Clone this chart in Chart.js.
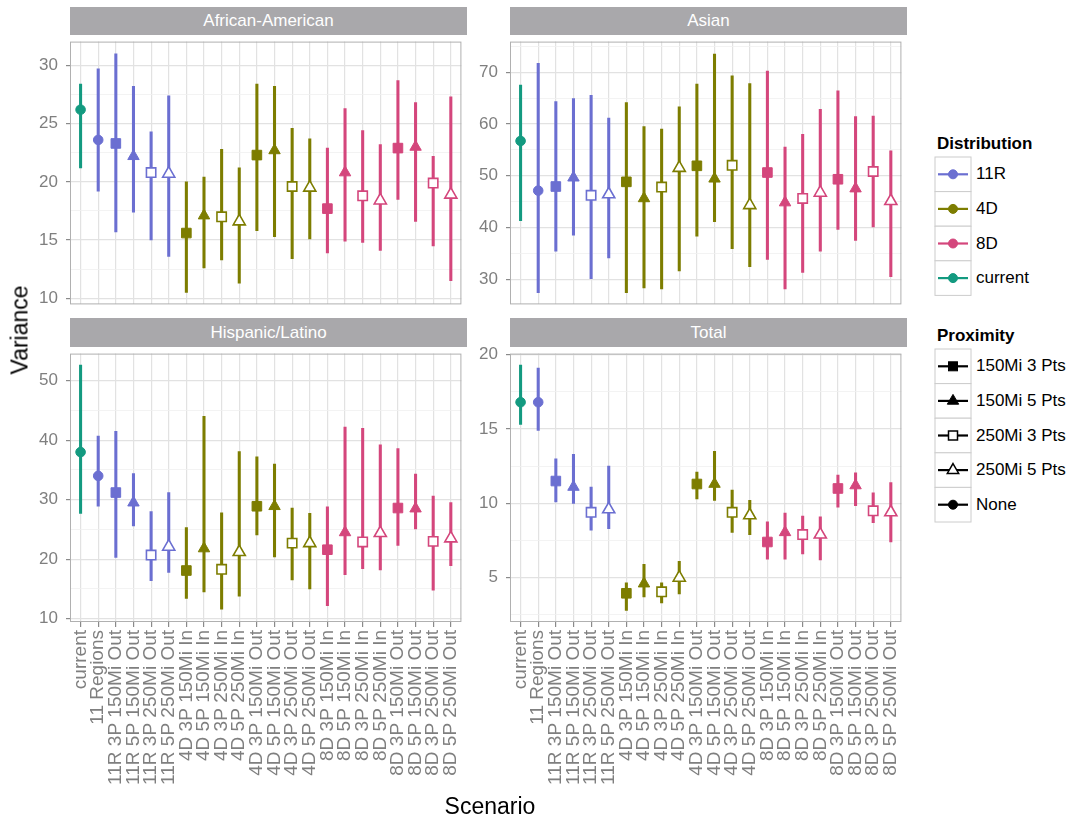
<!DOCTYPE html>
<html>
<head>
<meta charset="utf-8">
<script src="https://cdn.jsdelivr.net/npm/chart.js@4.4.1/dist/chart.umd.min.js"></script>
<style>
  body { margin: 0; background: #fff; font-family: "Liberation Sans", Arial, sans-serif; }
  #wrap { position: relative; width: 1076px; height: 822px; overflow: hidden; }
  canvas { position: absolute; }
  .strip { position: absolute; background: #a9a8ab; color: #fff; font-size: 17px; text-align: center; }
  .title { position: absolute; color: #000; font-size: 23px; white-space: nowrap; }
  .legTitle { position: absolute; font-weight: bold; font-size: 17px; }
  .legLabel { position: absolute; font-size: 17px; white-space: nowrap; }
  svg { position: absolute; }
</style>
</head>
<body>
<div id="wrap">
  <canvas id="aaChart" width="470" height="280" style="left:0;top:33px"></canvas>
  <canvas id="asianChart" width="440" height="280" style="left:470px;top:33px"></canvas>
  <canvas id="hispChart" width="470" height="462" style="left:0;top:345px"></canvas>
  <canvas id="totalChart" width="440" height="462" style="left:470px;top:345px"></canvas>

  <div class="strip" style="left:70px;top:7px;width:397px;height:28px;line-height:28px">African-American</div>
  <div class="strip" style="left:510px;top:7px;width:397px;height:28px;line-height:28px">Asian</div>
  <div class="strip" style="left:70px;top:318px;width:397px;height:29px;line-height:29px">Hispanic/Latino</div>
  <div class="strip" style="left:510px;top:318px;width:397px;height:29px;line-height:29px">Total</div>

  <div class="title" style="left:20px;top:330px;transform:translate(-50%,-50%) rotate(-90deg)">Variance</div>
  <div class="title" style="left:490px;top:806px;transform:translate(-50%,-50%)">Scenario</div>

  <div class="legTitle" style="left:937px;top:134px">Distribution</div>
  <div class="legTitle" style="left:937px;top:326px">Proximity</div>
  <div id="legend"></div>
</div>
<script>
// Các kịch bản (trục x)
const categories = [
    "current", "11 Regions",
    "11R 3P 150Mi Out", "11R 5P 150Mi Out", "11R 3P 250Mi Out", "11R 5P 250Mi Out",
    "4D 3P 150Mi In", "4D 5P 150Mi In", "4D 3P 250Mi In", "4D 5P 250Mi In",
    "4D 3P 150Mi Out", "4D 5P 150Mi Out", "4D 3P 250Mi Out", "4D 5P 250Mi Out",
    "8D 3P 150Mi In", "8D 5P 150Mi In", "8D 3P 250Mi In", "8D 5P 250Mi In",
    "8D 3P 150Mi Out", "8D 5P 150Mi Out", "8D 3P 250Mi Out", "8D 5P 250Mi Out"
];
const distribution = [
    "current", "11R", "11R", "11R", "11R", "11R",
    "4D", "4D", "4D", "4D", "4D", "4D", "4D", "4D",
    "8D", "8D", "8D", "8D", "8D", "8D", "8D", "8D"
];
const proximity = [
    "None", "None",
    "150Mi 3 Pts", "150Mi 5 Pts", "250Mi 3 Pts", "250Mi 5 Pts",
    "150Mi 3 Pts", "150Mi 5 Pts", "250Mi 3 Pts", "250Mi 5 Pts",
    "150Mi 3 Pts", "150Mi 5 Pts", "250Mi 3 Pts", "250Mi 5 Pts",
    "150Mi 3 Pts", "150Mi 5 Pts", "250Mi 3 Pts", "250Mi 5 Pts",
    "150Mi 3 Pts", "150Mi 5 Pts", "250Mi 3 Pts", "250Mi 5 Pts"
];
const distLabels = ["11R", "4D", "8D", "current"];
const proxLabels = ["150Mi 3 Pts", "150Mi 5 Pts", "250Mi 3 Pts", "250Mi 5 Pts", "None"];

// African-American
const aaMid = [26.2, 23.6, 23.3, 22.2, 20.8, 20.7, 15.6, 17.1, 17.0, 16.6, 22.3, 22.7, 19.6, 19.5, 17.7, 20.8, 18.8, 18.4, 22.9, 23.0, 19.9, 18.9];
const aaLo  = [21.2, 19.2, 15.7, 17.4, 15.0, 13.6, 10.5, 12.6, 13.3, 11.3, 15.8, 15.3, 13.4, 15.1, 13.9, 14.9, 14.8, 14.1, 18.5, 16.6, 14.5, 11.5];
const aaHi  = [28.4, 29.7, 31.0, 28.2, 24.3, 27.4, 20.0, 20.4, 22.8, 21.2, 28.4, 28.2, 24.6, 23.7, 22.9, 26.3, 24.4, 23.2, 28.7, 26.8, 22.2, 27.3];
const aaTicks = [10, 15, 20, 25, 30];

// Asian
const asianMid = [56.7, 47.1, 47.9, 49.6, 46.2, 46.4, 48.8, 45.6, 47.8, 51.5, 51.9, 49.4, 52.0, 44.3, 50.6, 44.8, 45.6, 46.7, 49.3, 47.5, 50.8, 45.1];
const asianLo  = [41.3, 27.4, 35.4, 38.5, 30.1, 34.1, 27.4, 28.3, 28.1, 31.6, 38.3, 41.1, 35.9, 32.4, 33.8, 28.1, 31.3, 35.4, 39.6, 37.5, 40.1, 30.5];
const asianHi  = [67.5, 71.7, 64.3, 64.9, 65.5, 61.1, 64.1, 59.5, 59.0, 63.3, 67.7, 73.5, 69.3, 67.8, 70.2, 55.5, 58.0, 62.8, 66.4, 61.4, 61.5, 54.8];
const asianTicks = [30, 40, 50, 60, 70];

// Hispanic/Latino
const hispMid = [38.0, 34.0, 31.2, 29.5, 20.7, 22.1, 18.1, 21.8, 18.3, 21.2, 28.9, 28.9, 22.7, 22.7, 21.6, 24.5, 22.9, 24.4, 28.6, 28.5, 23.0, 23.5];
const hispLo  = [27.7, 28.9, 20.3, 25.6, 16.4, 17.8, 13.4, 14.5, 11.6, 13.8, 24.1, 20.4, 16.5, 15.0, 12.2, 17.4, 18.4, 18.2, 22.3, 25.1, 14.8, 18.9];
const hispHi  = [52.6, 40.7, 41.5, 34.4, 28.0, 31.2, 25.3, 44.0, 27.8, 38.1, 37.2, 36.0, 28.6, 27.7, 28.8, 42.2, 42.0, 39.2, 38.6, 34.3, 30.6, 29.5];
const hispTicks = [10, 20, 30, 40, 50];

// Total
const totalMid = [16.8, 16.8, 11.5, 11.1, 9.4, 9.6, 3.95, 4.6, 4.05, 5.0, 11.3, 11.3, 9.4, 9.2, 7.4, 8.05, 7.9, 7.9, 11.0, 11.2, 9.5, 9.4];
const totalLo  = [15.3, 14.9, 10.1, 10.0, 8.2, 8.3, 2.8, 3.7, 3.3, 3.9, 10.3, 10.2, 8.05, 7.9, 6.25, 6.25, 6.6, 6.2, 9.75, 9.85, 8.7, 7.4];
const totalHi  = [19.3, 19.1, 13.0, 13.3, 11.1, 12.5, 4.65, 5.9, 4.65, 6.1, 12.1, 13.5, 10.9, 10.2, 8.75, 9.35, 9.15, 9.1, 11.9, 12.05, 10.7, 11.4];
const totalTicks = [5, 10, 15, 20];

// Màu và hình dạng
const distColors = { "11R": "#6b6fd1", "4D": "#7d7d00", "8D": "#d4467c", "current": "#139a80" };
const shapes = {
    "150Mi 3 Pts": { style: "rect", r: 6.8, open: false },
    "150Mi 5 Pts": { style: "triangle", r: 6.6, open: false },
    "250Mi 3 Pts": { style: "rect", r: 6.6, open: true },
    "250Mi 5 Pts": { style: "triangle", r: 7, open: true },
    "None": { style: "circle", r: 4.8, open: false }
};
const tickColor = "#7f7f7f";
const majorGrid = "#e2e2e2";
const minorGrid = "#f0f0f0";

Chart.defaults.font.family = '"Liberation Sans", Arial, sans-serif';

// Viền khung panel
const panelBorder = {
    id: "panelBorder",
    beforeDatasetsDraw(chart) {
        const { ctx, chartArea: a } = chart;
        ctx.save();
        ctx.strokeStyle = "#b0b0b0";
        ctx.lineWidth = 1;
        ctx.strokeRect(a.left + 0.5, a.top + 0.5, a.right - a.left - 1, a.bottom - a.top - 1);
        ctx.restore();
    }
};

function buildYTicks(majors, min, max) {
    const step = majors[1] - majors[0];
    const ticks = [];
    for (let v = majors[0] - step; v <= majors[majors.length - 1] + step; v += step / 2) {
        if (v < min || v > max) continue;
        const isMajor = majors.includes(v);
        ticks.push({ value: v, minor: !isMajor });
    }
    return ticks;
}

function createPanel(id, mid, lo, hi, yMin, yMax, majors, showX, yWidth) {
    const ctx = document.getElementById(id).getContext("2d");
    const colors = distribution.map(d => distColors[d]);

    return new Chart(ctx, {
        type: "scatter",
        data: {
            datasets: [{
                type: "scatter",
                data: mid.map((v, i) => ({ x: i, y: v })),
                pointStyle: proximity.map(p => shapes[p].style),
                pointRadius: proximity.map(p => shapes[p].r),
                pointBackgroundColor: proximity.map((p, i) => shapes[p].open ? "#ffffff" : colors[i]),
                pointBorderColor: colors,
                pointBorderWidth: proximity.map(p => shapes[p].open ? 1.6 : 1),
                order: 1
            }, {
                type: "bar",
                data: lo.map((v, i) => ({ x: i, y: [v, hi[i]] })),
                backgroundColor: colors,
                barThickness: 2.4,
                borderWidth: 0,
                grouped: false,
                order: 2
            }]
        },
        options: {
            responsive: false,
            animation: false,
            layout: { padding: { top: 2, right: 3, bottom: showX ? 0 : 3, left: 0 } },
            plugins: { legend: { display: false }, tooltip: { enabled: false } },
            scales: {
                x: {
                    type: "linear",
                    min: -0.6,
                    max: categories.length - 0.4,
                    offset: false,
                    afterBuildTicks: axis => { axis.ticks = categories.map((c, i) => ({ value: i })); },
                    afterFit: axis => {
                        axis.height = showX ? 185 : 0;
                        axis.paddingLeft = 0;
                        axis.paddingRight = 0;
                    },
                    ticks: {
                        display: showX,
                        autoSkip: false,
                        minRotation: 90,
                        maxRotation: 90,
                        padding: 3,
                        color: tickColor,
                        font: { size: 19 },
                        callback: v => categories[v]
                    },
                    grid: {
                        offset: false,
                        color: majorGrid,
                        lineWidth: 1.2,
                        drawTicks: showX,
                        tickLength: 5,
                        tickColor: "#8a8a8a"
                    },
                    border: { display: false }
                },
                y: {
                    type: "linear",
                    min: yMin,
                    max: yMax,
                    afterBuildTicks: axis => { axis.ticks = buildYTicks(majors, yMin, yMax); },
                    afterFit: axis => {
                        axis.width = yWidth;
                        axis.paddingTop = 0;
                        axis.paddingBottom = 0;
                    },
                    ticks: {
                        autoSkip: false,
                        padding: 8,
                        color: tickColor,
                        font: { size: 17 },
                        callback: (v, i, ticks) => ticks[i].minor ? "" : v
                    },
                    grid: {
                        color: c => c.tick && c.tick.minor ? minorGrid : majorGrid,
                        lineWidth: c => c.tick && c.tick.minor ? 0.8 : 1.2,
                        tickLength: 4,
                        tickColor: c => c.tick && c.tick.minor ? "rgba(0,0,0,0)" : "#8a8a8a"
                    },
                    border: { display: false }
                }
            }
        },
        plugins: [panelBorder]
    });
}

// Chú giải
function buildLegend() {
    const legend = document.getElementById("legend");
    const rowH = 34.6;
    let html = "";

    function keyMarker(cx, cy, shape, color) {
        const s = shapes[shape];
        const fill = s.open ? "#fff" : color;
        const sw = s.open ? 1.5 : 1;
        if (s.style === "circle") return `<circle cx="${cx}" cy="${cy}" r="4.5" fill="${fill}" stroke="${color}" stroke-width="${sw}"/>`;
        if (s.style === "rect") return `<rect x="${cx - 4.5}" y="${cy - 4.5}" width="9" height="9" fill="${fill}" stroke="${color}" stroke-width="${sw}"/>`;
        return `<polygon points="${cx},${cy - 6.5} ${cx + 5.7},${cy + 3.3} ${cx - 5.7},${cy + 3.3}" fill="${fill}" stroke="${color}" stroke-width="${sw}"/>`;
    }

    function block(top, items, colorOf, shapeOf) {
        let svg = `<svg style="left:934px;top:${top}px" width="38" height="${rowH * items.length + 2}">`;
        items.forEach((item, i) => {
            const y = 1 + i * rowH;
            const cy = y + rowH / 2;
            const col = colorOf(item);
            svg += `<rect x="1" y="${y}" width="36" height="${rowH}" fill="#fff" stroke="#cccccc" stroke-width="1"/>`;
            svg += `<line x1="4" y1="${cy}" x2="34" y2="${cy}" stroke="${col}" stroke-width="2.2"/>`;
            svg += keyMarker(19, cy, shapeOf(item), col);
            html += `<div class="legLabel" style="left:976px;top:${top + cy - 10}px;line-height:20px">${item}</div>`;
        });
        svg += "</svg>";
        html += svg;
    }

    block(156, distLabels, d => distColors[d], () => "None");
    block(348, proxLabels, () => "#000", p => p);
    legend.innerHTML = html;
}

document.addEventListener("DOMContentLoaded", () => {
    createPanel("aaChart", aaMid, aaLo, aaHi, 9.47, 32.05, aaTicks, false, 70);
    createPanel("asianChart", asianMid, asianLo, asianHi, 25.12, 75.9, asianTicks, false, 40);
    createPanel("hispChart", hispMid, hispLo, hispHi, 9.45, 54.55, hispTicks, true, 70);
    createPanel("totalChart", totalMid, totalLo, totalHi, 2.02, 20.07, totalTicks, true, 40);
    buildLegend();
});
</script>
</body>
</html>
